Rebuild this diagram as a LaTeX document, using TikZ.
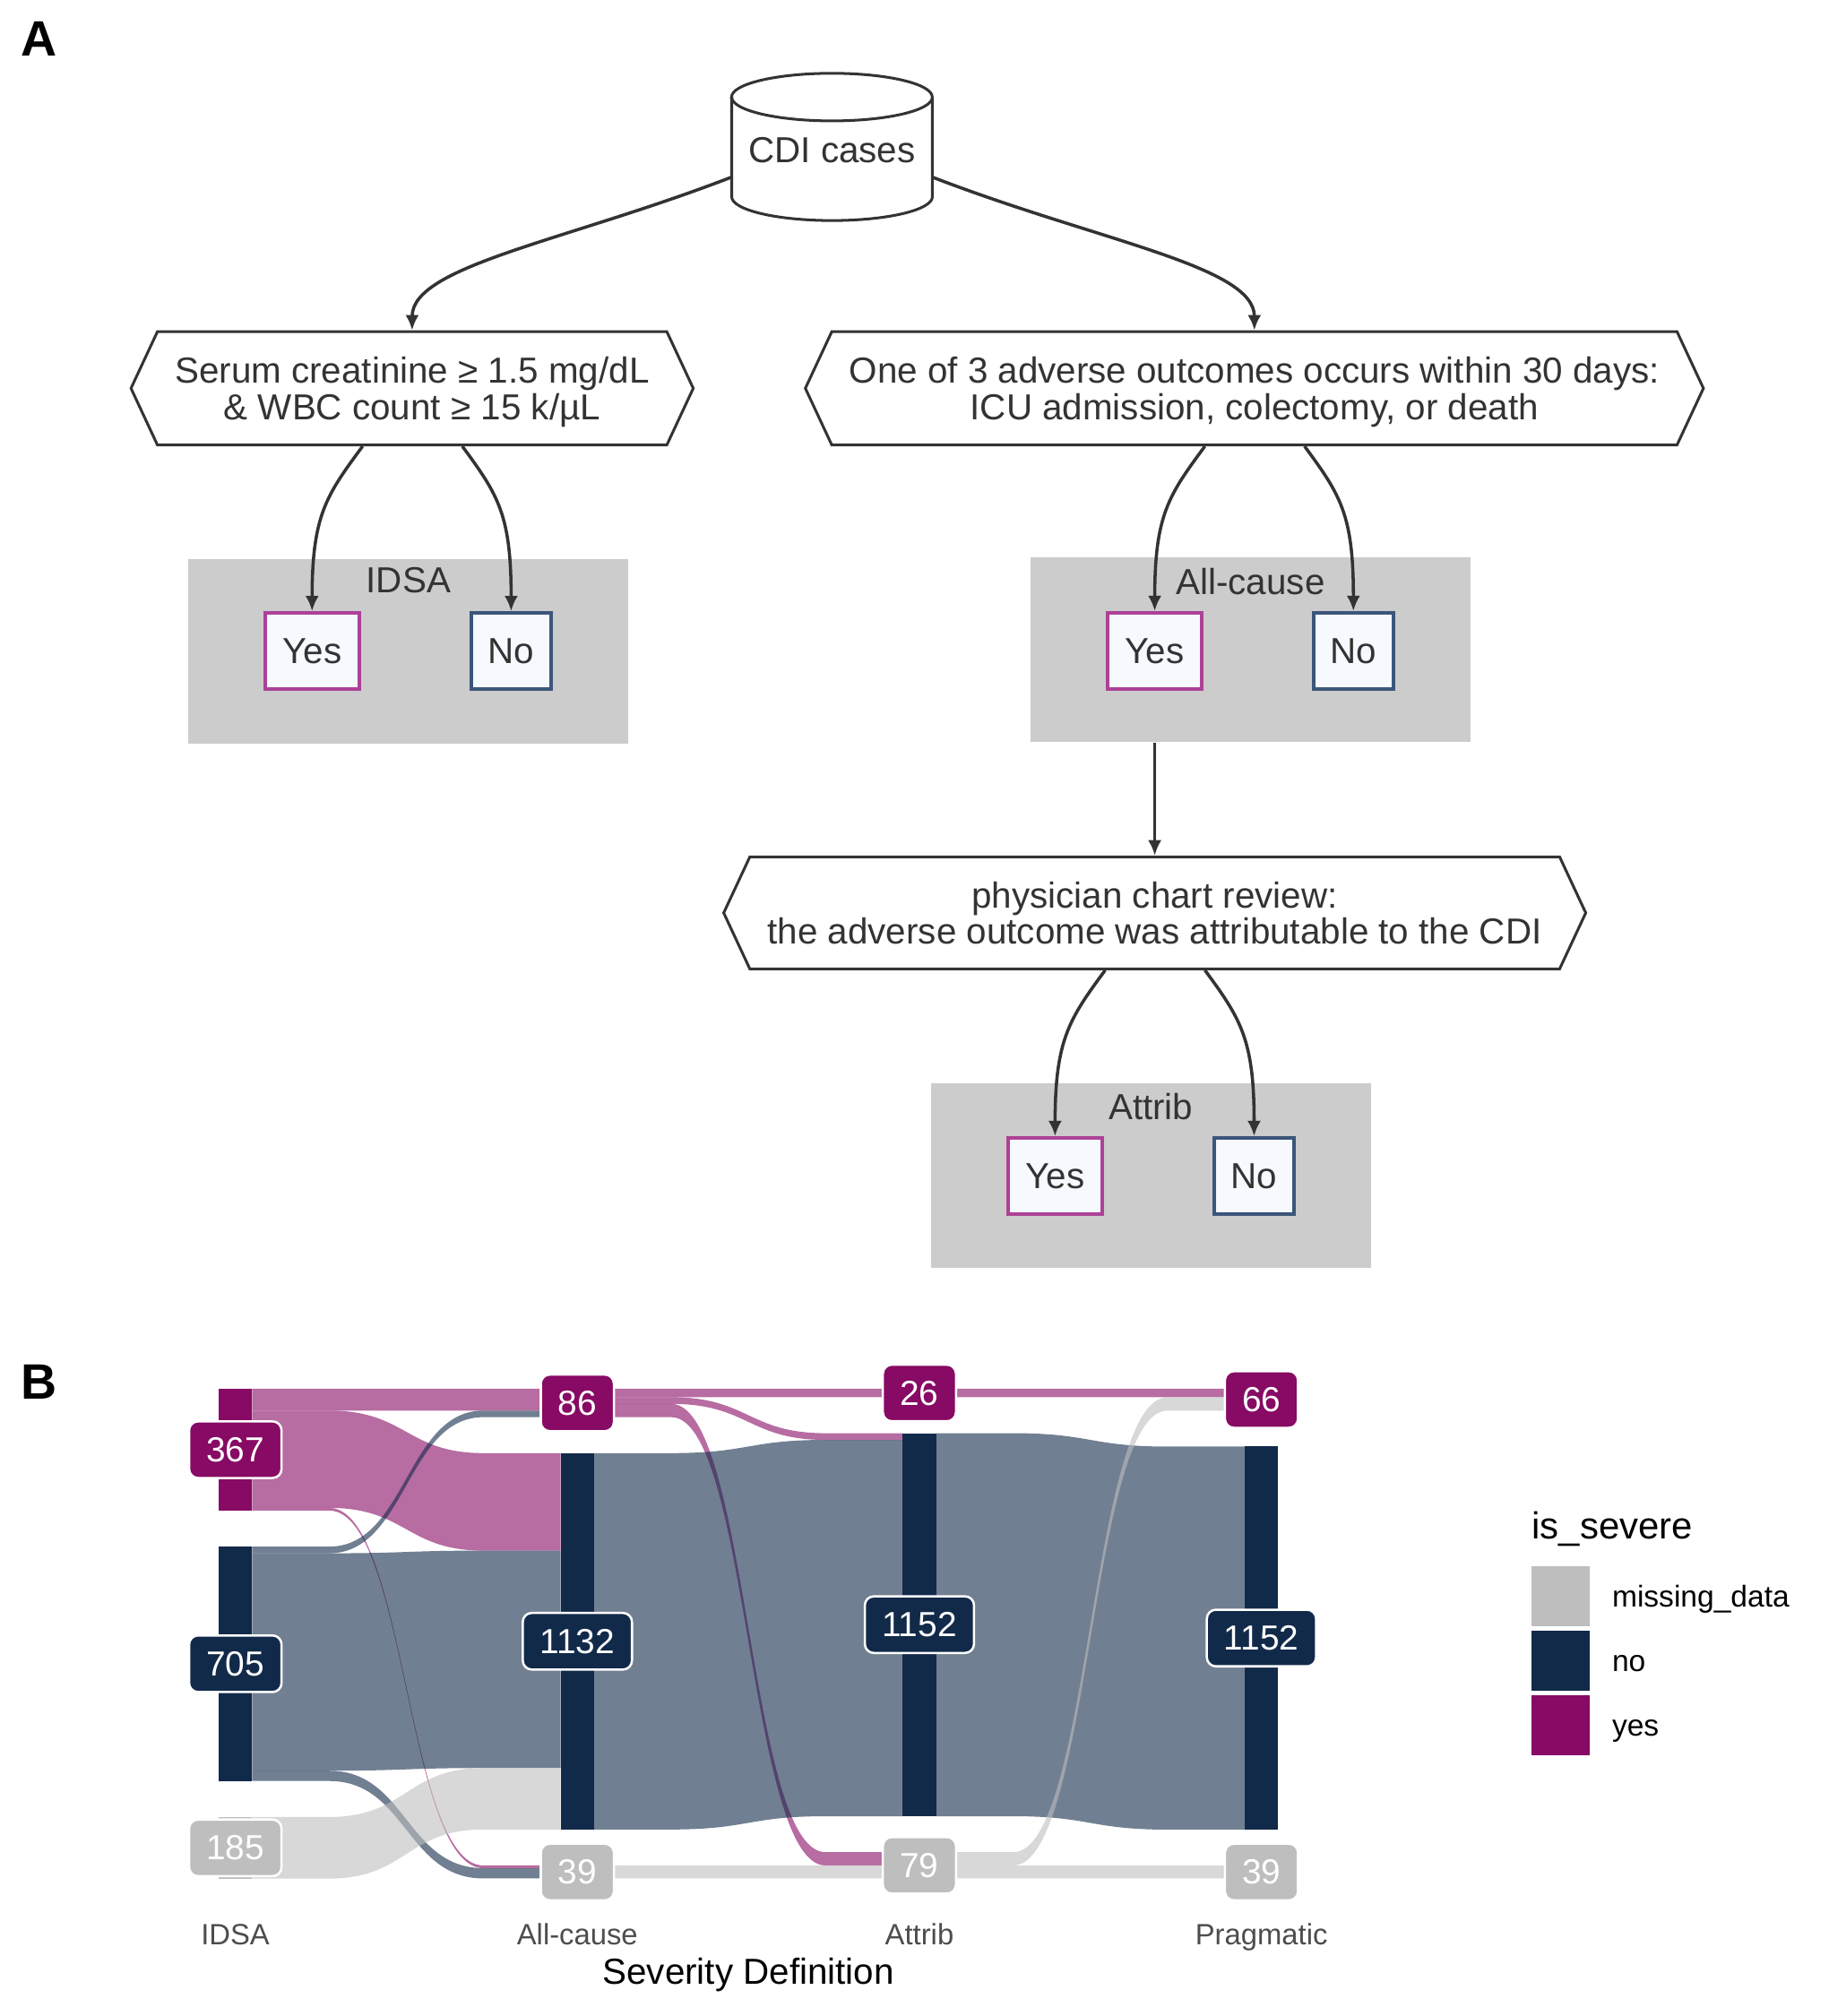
\documentclass[tikz,border=0pt]{standalone}
\usepackage{fontspec}
\setmainfont{Liberation Sans}
\usetikzlibrary{positioning,shapes,arrows.meta}

\definecolor{inkgray}{HTML}{333333}
\definecolor{clustergray}{HTML}{CCCCCC}
\definecolor{boxfill}{HTML}{F6F9FD}
\definecolor{yesline}{RGB}{172,66,152}
\definecolor{noline}{RGB}{60,86,122}
\definecolor{yescol}{RGB}{135,10,100}
\definecolor{nocol}{RGB}{18,42,74}
\definecolor{misscol}{RGB}{190,190,190}
\definecolor{axisgray}{HTML}{4D4D4D}

% one ribbon: left column x, top/bottom on the left, top/bottom on the right, colour
\newcommand{\ribbon}[6]{%
  \fill[#6, fill opacity=.6] ({#1+13},#2) -- ({#1+73},#2)
    .. controls ({#1+133},#2) and ({#1+133},#4) .. ({#1+193},#4) -- ({#1+253},#4)
    -- ({#1+253},#5) -- ({#1+193},#5)
    .. controls ({#1+133},#5) and ({#1+133},#3) .. ({#1+73},#3) -- ({#1+13},#3) -- cycle;}

\tikzset{
  ftext/.style={font=\fontsize{8}{8.1}\selectfont, text=inkgray},
  decision/.style={ftext, shape=signal, signal to=west and east, signal pointer angle=130,
                   draw=inkgray, fill=white, line width=.6pt, align=center, inner sep=0pt,
                   text depth=-2.5pt},
  cluster/.style={fill=clustergray, inner sep=0pt, minimum width=3.42cm, minimum height=1.435cm},
  yesbox/.style={ftext, draw=yesline, fill=boxfill, line width=.8pt, inner sep=0pt,
                 minimum width=.73cm, minimum height=.59cm, text depth=-1.2pt},
  nobox/.style={ftext, draw=noline, fill=boxfill, line width=.8pt, inner sep=0pt,
                minimum width=.62cm, minimum height=.59cm, text depth=-1.2pt},
  edge/.style={draw=inkgray, line width=.7pt, -{Latex[length=3.4pt,width=3pt]}},
  stratlab/.style={rounded corners=2pt, draw=white, line width=.5pt, text=white,
                   font=\fontsize{7.7}{8}\selectfont, inner xsep=3.8pt, inner ysep=0pt,
                   minimum height=.44cm},
  keybox/.style={inner sep=0pt, minimum width=.456cm, minimum height=.465cm},
  legtext/.style={font=\fontsize{6.65}{7}\selectfont, text height=4.8pt, text depth=0pt},
  axislab/.style={font=\fontsize{6.5}{7}\selectfont, text=axisgray, text height=4.8pt, text depth=0pt},
  panel/.style={font=\fontsize{11}{11}\selectfont\bfseries},
}

\begin{document}
\begin{tikzpicture}[x=0.01cm, y=-0.01cm]
\useasboundingbox (0,0) rectangle (1422,1568);

\node[panel] (pa) at (30,30) {A};

\draw[inkgray, line width=.6pt, fill=white] (569,75.5) -- (569,153)
  arc[start angle=180, end angle=360, x radius=.78cm, y radius=.185cm] -- (725,75.5)
  arc[start angle=0, end angle=180, x radius=.78cm, y radius=.185cm] -- cycle;
\draw[inkgray, line width=.6pt] (569,75.5)
  arc[start angle=180, end angle=360, x radius=.78cm, y radius=.185cm];
\node[ftext, minimum width=1.56cm, minimum height=1.14cm] (cdi) at (647,117) {CDI cases};

\node[decision, minimum width=4.37cm, minimum height=.88cm] (crit) at (320.5,302)
  {Serum creatinine ≥ 1.5 mg/dL\\\& WBC count ≥ 15 k/µL};
\node[decision, minimum width=6.98cm, minimum height=.88cm] (adverse) at (975.5,302)
  {One of 3 adverse outcomes occurs within 30 days:\\ICU admission, colectomy, or death};

\node[cluster] (idsabox) at (317.7,506.3) {};
\node[ftext] (idsalab) at (317.7,451.5) {IDSA};
\node[yesbox] (idyes) at (242.7,506.3) {Yes};
\node[nobox] (idno) at (397.5,506.3) {No};

\node[cluster] (acbox) at (972.6,505.5) {};
\node[ftext] (aclab) at (972.5,452.5) {All-cause};
\node[yesbox] (acyes) at (898,506.2) {Yes};
\node[nobox] (acno) at (1052.5,506.2) {No};

\node[decision, minimum width=6.70cm, minimum height=.87cm] (review) at (898,710)
  {physician chart review:\\the adverse outcome was attributable to the CDI};

\node[cluster] (atbox) at (895,914.4) {};
\node[ftext] (atlab) at (895,861) {Attrib};
\node[yesbox] (atyes) at (820.5,914.6) {Yes};
\node[nobox] (atno) at (975.3,914.6) {No};

\draw[edge] ([yshift=-.21cm]cdi.west) .. controls +(-130,50) and +(0,-50) .. (crit.north);
\draw[edge] ([yshift=-.21cm]cdi.east) .. controls +(130,50) and +(0,-50) .. (adverse.north);
\draw[edge] ([xshift=-.385cm]crit.south) .. controls +(-28,38) and +(0,-75) .. (idyes.north);
\draw[edge] ([xshift=.39cm]crit.south) .. controls +(28,38) and +(0,-75) .. (idno.north);
\draw[edge] ([xshift=-.385cm]adverse.south) .. controls +(-28,38) and +(0,-75) .. (acyes.north);
\draw[edge] ([xshift=.39cm]adverse.south) .. controls +(28,38) and +(0,-75) .. (acno.north);
\draw[edge] (acbox.south -| acyes) -- (review.north);
\draw[edge] ([xshift=-.385cm]review.south) .. controls +(-28,38) and +(0,-75) .. (atyes.north);
\draw[edge] ([xshift=.39cm]review.south) .. controls +(28,38) and +(0,-75) .. (atno.north);

% panel B
\node[panel] (pb) at (30,1075) {B};

\ribbon{183}{1080}{1097.1}{1080}{1097.1}{yescol}
\ribbon{183}{1097.1}{1172.8}{1130.2}{1206.0}{yescol}
\ribbon{183}{1172.8}{1174.9}{1450.9}{1453.0}{yescol}
\ribbon{183}{1202.9}{1208.1}{1097.1}{1102.2}{nocol}
\ribbon{183}{1208.1}{1377.2}{1206.0}{1375.1}{nocol}
\ribbon{183}{1377.2}{1385.2}{1453.0}{1461.0}{nocol}
\ribbon{183}{1413.2}{1461.1}{1375.1}{1422.9}{misscol}

\ribbon{449}{1080}{1086.7}{1080}{1086.7}{yescol}
\ribbon{449}{1086.7}{1091.9}{1114.7}{1119.9}{yescol}
\ribbon{449}{1091.9}{1102.2}{1440.6}{1450.9}{yescol}
\ribbon{449}{1130.2}{1422.9}{1119.9}{1412.6}{nocol}
\ribbon{449}{1450.9}{1461.0}{1450.9}{1461.0}{misscol}

\ribbon{715}{1080}{1086.7}{1080}{1086.7}{yescol}
\ribbon{715}{1114.7}{1412.6}{1125.1}{1423.0}{nocol}
\ribbon{715}{1440.6}{1450.9}{1086.7}{1097.1}{misscol}
\ribbon{715}{1450.9}{1461.0}{1451.0}{1461.0}{misscol}

\fill[yescol] (170,1080) rectangle (196,1174.9);
\fill[nocol] (170,1202.9) rectangle (196,1385.2);
\fill[misscol] (170,1413.2) rectangle (196,1461.1);
\fill[yescol] (436,1080) rectangle (462,1102.2);
\fill[nocol] (436,1130.2) rectangle (462,1422.9);
\fill[misscol] (436,1450.9) rectangle (462,1461.0);
\fill[yescol] (702,1080) rectangle (728,1086.7);
\fill[nocol] (702,1114.7) rectangle (728,1412.6);
\fill[misscol] (702,1440.6) rectangle (728,1461.0);
\fill[yescol] (968,1080) rectangle (994,1097.1);
\fill[nocol] (968,1125.1) rectangle (994,1423.0);
\fill[misscol] (968,1451.0) rectangle (994,1461.0);

\node[stratlab, fill=yescol] (l367) at (183,1127.5) {367};
\node[stratlab, fill=nocol] (l705) at (183,1294) {705};
\node[stratlab, fill=misscol] (l185) at (183,1437.2) {185};
\node[stratlab, fill=yescol] (l86) at (449,1091.1) {86};
\node[stratlab, fill=nocol] (l1132) at (449,1276.5) {1132};
\node[stratlab, fill=misscol] (l39a) at (449,1456) {39};
\node[stratlab, fill=yescol] (l26) at (715,1083.4) {26};
\node[stratlab, fill=nocol] (l1152a) at (715,1263.6) {1152};
\node[stratlab, fill=misscol] (l79) at (715,1450.8) {79};
\node[stratlab, fill=yescol] (l66) at (981,1088.5) {66};
\node[stratlab, fill=nocol] (l1152b) at (981,1274) {1152};
\node[stratlab, fill=misscol] (l39b) at (981,1456) {39};

\node[axislab] (xidsa) at (183,1504) {IDSA};
\node[axislab] (xall) at (449,1504) {All-cause};
\node[axislab] (xatt) at (715,1504) {Attrib};
\node[axislab] (xprag) at (981,1504) {Pragmatic};
\node[font=\fontsize{8}{8}\selectfont] (xtitle) at (582,1536) {Severity Definition};

\node[font=\fontsize{8.3}{8.3}\selectfont, anchor=west] (legtitle) at (1179,1189) {is\_severe};
\node[keybox, fill=misscol] (keymiss) at (1213.8,1241.7) {};
\node[keybox, fill=nocol] (keyno) at (1213.8,1291.9) {};
\node[keybox, fill=yescol] (keyyes) at (1213.8,1342) {};
\node[legtext, right=.04cm of keymiss] (labmiss) {missing\_data};
\node[legtext, right=.04cm of keyno] (labno) {no};
\node[legtext, right=.04cm of keyyes] (labyes) {yes};
\end{tikzpicture}
\end{document}
